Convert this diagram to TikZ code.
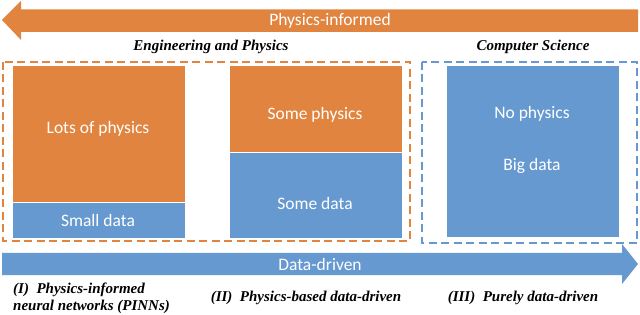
\documentclass[tikz,border=0pt]{standalone}
\usepackage{fontspec}
\setmainfont{Liberation Serif}
\newfontfamily\calibri{Carlito}
\definecolor{org}{HTML}{E0843F}
\definecolor{blu}{HTML}{6699CF}
\begin{document}
\begin{tikzpicture}[x=1pt,y=-1pt,
  lbl/.style={font=\bfseries\itshape\fontsize{15}{17.5}\selectfont, inner sep=0pt},
  wt/.style={text=white, font=\calibri\fontsize{17.5}{20}\selectfont, inner sep=0pt},
  blk/.style={draw=white, line width=0.6pt, anchor=north west, inner sep=0pt, minimum width=173pt},
  dbox/.style={dash pattern=on 8pt off 4.5pt, line width=2pt}]
\useasboundingbox (0,0) rectangle (640,315);
% top arrow
\fill[org] (2,20) -- (21,1) -- (21,9.5) -- (638,9.5) -- (638,32) -- (21,32) -- (21,40) -- cycle;
\node[wt] (pi) at (330,20.5) {Physics-informed};
\node[lbl] (eng) at (211,47) {Engineering and Physics};
\node[lbl] (cs) at (533,47) {Computer Science};
% dashed groups
\draw[org, dbox] (3,62) rectangle (410,241);
\draw[blu, dbox] (422,62) rectangle (637,243);
% blocks
\node[blk, fill=org, minimum height=137pt] (b1t) at (12,65) {};
\node[blk, fill=blu, minimum height=36pt] (b1b) at (12,202) {};
\node[wt] (t1) at (98,129) {Lots of physics};
\node[wt] (t2) at (98,220) {Small data};
\node[blk, fill=org, minimum height=87pt] (b2t) at (229,65) {};
\node[blk, fill=blu, minimum height=86pt] (b2b) at (229,152) {};
\node[wt] (t3) at (315,115) {Some physics};
\node[wt] (t4) at (315,203) {Some data};
\node[blk, fill=blu, minimum height=172pt] (b3) at (446,65) {};
\node[wt] (t5) at (532,114) {No physics};
\node[wt] (t6) at (532,166) {Big data};
% bottom arrow
\fill[blu] (2,253) -- (622,253) -- (622,244) -- (638,264) -- (622,284) -- (622,275) -- (2,275) -- cycle;
\node[wt] (dd) at (320,264) {Data-driven};
% labels
\node[lbl, align=left, anchor=west] (l1) at (13,298.5) {(I)\ \ Physics-informed\\neural networks (PINNs)};
\node[lbl] (l2) at (306,297.5) {(II)\ \ Physics-based data-driven};
\node[lbl] (l3) at (523,297.5) {(III)\ \ Purely data-driven};
\end{tikzpicture}
\end{document}
